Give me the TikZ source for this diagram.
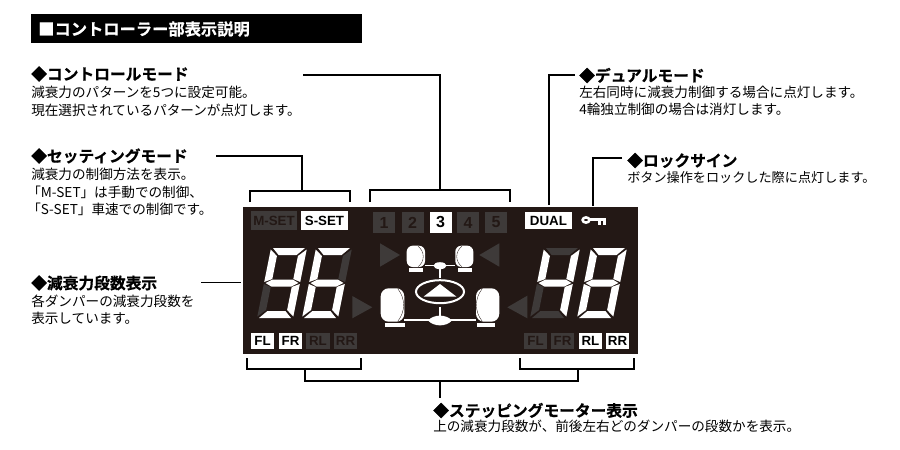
\documentclass[tikz,border=0pt]{standalone}
\usepackage{fontspec}
\setmainfont{Noto Sans CJK JP}
\newfontfamily\lcdfont{Liberation Sans}
\newfontfamily\headfont[FakeBold=0.6]{Noto Sans CJK JP Bold}
\definecolor{panelbg}{HTML}{231815}
\definecolor{panelgray}{HTML}{3E3A39}
\tikzset{
  headtext/.style={anchor=west,inner sep=0pt,font=\headfont\fontsize{11.8pt}{14pt}\selectfont},
  bodytext/.style={anchor=north west,inner sep=0pt,align=left,font=\fontsize{10.2pt}{13pt}\selectfont},
  leader/.style={line width=1.15pt},
  lcdon/.style={fill=white,text=black,inner sep=0pt,font=\lcdfont\bfseries\fontsize{10pt}{10pt}\selectfont},
  lcdoff/.style={fill=panelgray,text=panelbg,inner sep=0pt,font=\lcdfont\bfseries\fontsize{10pt}{10pt}\selectfont}
}
% one seven segment figure, segments a..g
\newcommand{\segA}{(2,-70) -- (34,-70) -- (27,-63) -- (9,-63) -- cycle}
\newcommand{\segB}{(36,-68.5) -- (28.5,-62) -- (28.5,-39) -- (36,-36) -- cycle}
\newcommand{\segC}{(36,-34) -- (28.5,-31) -- (28.5,-8) -- (36,-1.5) -- cycle}
\newcommand{\segD}{(2,0) -- (9,-7) -- (27,-7) -- (34,0) -- cycle}
\newcommand{\segE}{(0,-34) -- (7.5,-31) -- (7.5,-8) -- (0,-1.5) -- cycle}
\newcommand{\segF}{(0,-68.5) -- (7.5,-62) -- (7.5,-39) -- (0,-36) -- cycle}
\newcommand{\segG}{(1.5,-35) -- (8,-38.5) -- (28,-38.5) -- (34.5,-35) -- (28,-31.5) -- (8,-31.5) -- cycle}
\newcommand{\lcdfigure}[3]{%
  \begin{scope}[shift={(#1,318)},xslant=-0.2]
    \foreach \s in {#3} {\fill[panelgray] \csname seg\s\endcsname;}
    \foreach \s in {#2} {\fill[white] \csname seg\s\endcsname;}
  \end{scope}}
\begin{document}
\begin{tikzpicture}[x=0.75pt,y=0.75pt,yscale=-1,xscale=1]
\useasboundingbox (0,0) rectangle (900,450);

% Title bar
\fill [black] (31,14) rectangle (362,43);
\draw (38,29) node (titletext) [anchor=west,inner sep=0pt,text=white,font=\headfont\fontsize{12.2pt}{14pt}\selectfont] {■コントローラー部表示説明};

% Panel
\fill [panelbg] (243,207) rectangle (638,353.5);

% Leader ends
\coordinate (ctrlstart) at (303,75);
\coordinate (ctrlbend) at (440,75);
\coordinate (ctrlfoot) at (440,190);
\coordinate (ctrlleft) at (370,202);
\coordinate (ctrlright) at (510,202);
\coordinate (setstart) at (216,156);
\coordinate (setbend) at (302,156);
\coordinate (setfoot) at (302,191);
\coordinate (setleft) at (250,202);
\coordinate (setright) at (350,202);
\coordinate (stepstart) at (201,282.5);
\coordinate (stepend) at (241,282.5);
\coordinate (dualstart) at (575,75);
\coordinate (dualend) at (549,205);
\coordinate (lockstart) at (622,158);
\coordinate (lockend) at (593,206);
\coordinate (wheelfl) at (247,358);
\coordinate (wheelfr) at (361,358);
\coordinate (wheelrl) at (520,358);
\coordinate (wheelrr) at (634,358);
\coordinate (wheelleft) at (305,369);
\coordinate (wheelright) at (578,369);
\coordinate (wheelmid) at (440,381);
\coordinate (wheelend) at (440,398);

% Straight Lines
\draw [leader] (ctrlstart) -- (ctrlbend) -- (ctrlfoot);
\draw [leader] (ctrlleft) -- (ctrlleft |- ctrlfoot) -- (ctrlright |- ctrlfoot) -- (ctrlright);
\draw [leader] (setstart) -- (setbend) -- (setfoot);
\draw [leader] (setleft) -- (setleft |- setfoot) -- (setright |- setfoot) -- (setright);
\draw [leader] (stepstart) -- (stepend);
\draw [leader] (dualstart) -- (dualend |- dualstart) -- (dualend);
\draw [leader] (lockstart) -- (lockend |- lockstart) -- (lockend);
\draw [leader] (wheelfl) -- (wheelfl |- wheelleft) -- (wheelfr |- wheelleft) -- (wheelfr);
\draw [leader] (wheelrl) -- (wheelrl |- wheelright) -- (wheelrr |- wheelright) -- (wheelrr);
\draw [leader] (wheelleft) -- (wheelleft |- wheelmid) -- (wheelright |- wheelmid) -- (wheelright);
\draw [leader] (wheelmid) -- (wheelend);

% Text Node
\draw (31,74) node (ctrlhead) [headtext] {◆コントロールモード};
\draw (31,86) node (ctrlbody) [bodytext] {減衰力のパターンを5つに設定可能。\\現在選択されているパターンが点灯します。};
\draw (31,156) node (sethead) [headtext] {◆セッティングモード};
\draw (31,168) node (setbody) [bodytext] {減衰力の制御方法を表示。\\\hspace*{-3pt}「M-SET」は手動での制御、\\\hspace*{-3pt}「S-SET」車速での制御です。};
\draw (31,283) node (stephead) [headtext] {◆減衰力段数表示};
\draw (31,294.5) node (stepbody) [bodytext] {各ダンパーの減衰力段数を\\表示しています。};
\draw (579,75.5) node (dualhead) [headtext] {◆デュアルモード};
\draw (579,85.5) node (dualbody) [bodytext] {左右同時に減衰力制御する場合に点灯します。\\4輪独立制御の場合は消灯します。};
\draw (627,160.5) node (lockhead) [headtext] {◆ロックサイン};
\draw (627,171) node (lockbody) [bodytext,font=\fontsize{9.85pt}{13pt}\selectfont] {ボタン操作をロックした際に点灯します。};
\draw (433,410.5) node (wheelhead) [headtext] {◆ステッピングモーター表示};
\draw (433,420) node (wheelbody) [bodytext] {上の減衰力段数が、前後左右どのダンパーの段数かを表示。};

% Panel labels
\draw (274,220.5) node (mset) [lcdoff,minimum width=34.5pt,minimum height=14.2pt] {M-SET};
\draw (324.5,220.5) node (sset) [lcdon,minimum width=35.2pt,minimum height=14.2pt] {S-SET};
\draw (548.5,220.5) node (dual) [lcdon,minimum width=35.2pt,minimum height=13pt] {DUAL};
\foreach \n/\x/\k in {1/384/lcdoff,2/412.5/lcdoff,3/440.5/lcdon,4/468/lcdoff,5/496/lcdoff} {
  \draw (\x,222.5) node (num\n) [\k,minimum width=16.5pt,minimum height=15.8pt,font=\lcdfont\bfseries\fontsize{12pt}{12pt}\selectfont] {\n};
}
\foreach \t/\x/\k in {FL/262.5/lcdon,FR/290.5/lcdon,RL/318/lcdoff,RR/345.5/lcdoff} {
  \draw (\x,341) node (left\t) [\k,minimum width=17.3pt,minimum height=12.4pt] {\t};
}
\foreach \t/\x/\k in {FL/535.5/lcdoff,FR/562.5/lcdoff,RL/590.5/lcdon,RR/617.5/lcdon} {
  \draw (\x,341) node (right\t) [\k,minimum width=17.3pt,minimum height=12.4pt] {\t};
}

% Figures
\lcdfigure{257}{A,B,C,D,F,G}{E}
\lcdfigure{302}{A,C,D,E,F,G}{B}
\lcdfigure{530}{B,C,F,G}{A,D,E}
\lcdfigure{577}{A,B,C,D,E,F,G}{}

% Triangles
\fill [panelgray] (352.3,296) -- (372.3,307.3) -- (352.3,318.3) -- cycle;
\fill [panelgray] (380,243.3) -- (400,255) -- (380,266.7) -- cycle;
\fill [panelgray] (499.3,243.3) -- (479.3,255) -- (499.3,266.7) -- cycle;
\fill [panelgray] (527.3,295.7) -- (507.3,307.3) -- (527.3,318.3) -- cycle;

% Car
\draw [white,line width=1.1pt] (425,265.7) -- (455,265.7) (440,265.7) -- (440,278) (440,306.7) -- (440,318) (404,320) -- (476,320);
\fill [white] (440,265.7) ellipse (6.5 and 3.5);
\fill [white] (428,320.5) .. controls (434,314) and (446,314) .. (452,320.5) .. controls (446,327) and (434,327) .. (428,320.5) -- cycle;
\draw [white,line width=1.5pt] (440,291.7) ellipse (24 and 11.5);
\fill [white] (440,284) -- (456.5,296.7) -- (423.5,296.7) -- cycle;
\fill [white,rounded corners=4.5pt] (406.7,245.7) rectangle (425,267);
\fill [white,rounded corners=4.5pt] (455.3,245.7) rectangle (473.3,267);
\fill [white,rounded corners=6pt] (380.7,288.3) rectangle (404.3,321.7);
\fill [white,rounded corners=6pt] (476,288.3) rectangle (499.3,321.7);
\fill [white] (409,268.3) rectangle (423,271.7);
\fill [white] (458,268.3) rectangle (472,271.7);
\fill [white] (385,323) rectangle (405,327);
\fill [white] (477,323) rectangle (495,327);
\draw [panelbg,line width=0.25pt] (418,246) .. controls (425,252) and (425,261) .. (418,267);
\draw [panelbg,line width=0.25pt] (462,246) .. controls (455,252) and (455,261) .. (462,267);
\draw [panelbg,line width=0.25pt] (398,289) .. controls (405.5,299) and (405.5,311) .. (398,321);
\draw [panelbg,line width=0.25pt] (482,289) .. controls (474.5,299) and (474.5,311) .. (482,321);

% Key
\draw [white,line width=1.9pt] (586,220) ellipse (3.4 and 2.6);
\fill [white] (590,218) rectangle (606,221.3);
\fill [white] (598,221) rectangle (600.5,225);
\fill [white] (603,221) rectangle (606,225);

\end{tikzpicture}
\end{document}
